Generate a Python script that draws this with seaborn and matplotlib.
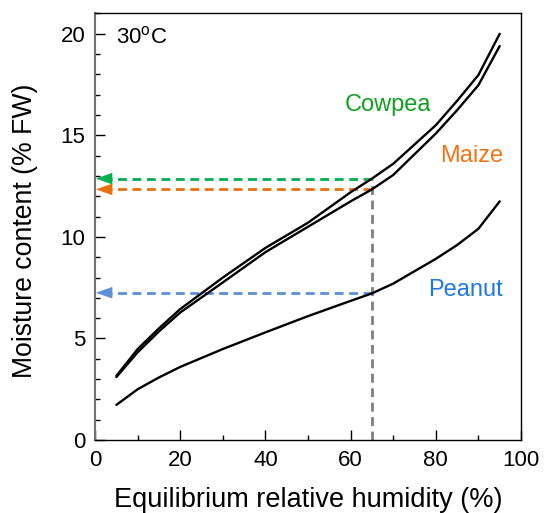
import matplotlib
matplotlib.use("Agg")
import matplotlib.pyplot as plt
import seaborn as sns
import pandas as pd
from matplotlib.ticker import MultipleLocator

sns.set_theme(style="ticks")
plt.rcParams['font.family'] = ['Liberation Sans', 'DejaVu Sans']
plt.rcParams['text.color'] = 'black'
plt.rcParams['axes.labelcolor'] = 'black'
plt.rcParams['xtick.color'] = 'black'
plt.rcParams['ytick.color'] = 'black'

rh = [5, 10, 15, 20, 30, 40, 50, 60, 65, 70, 80, 85, 90, 95]
cowpea = [3.16, 4.48, 5.5, 6.45, 8.0, 9.46, 10.7, 12.2, 12.87, 13.6, 15.5, 16.7, 17.97, 20.0]
maize = [3.1, 4.32, 5.35, 6.28, 7.76, 9.25, 10.5, 11.75, 12.34, 13.05, 15.09, 16.24, 17.47, 19.4]
peanut = [1.73, 2.5, 3.08, 3.6, 4.48, 5.3, 6.1, 6.85, 7.22, 7.7, 8.92, 9.6, 10.4, 11.75]

ref_rh = 65
ref_vals = [12.87, 12.34, 7.25]
ref_names = ["Cowpea", "Maize", "Peanut"]
arrow_colors = ["#00b050", "#e8700c", "#5b8fd6"]
text_colors = ["#10a020", "#f57314", "#1f78e0"]
label_pos = [(68.8, 16.5), (88.5, 14.0), (87.0, 7.4)]

df = pd.DataFrame({
    "rh": rh * 3,
    "mc": cowpea + maize + peanut,
    "crop": ["Cowpea"] * len(rh) + ["Maize"] * len(rh) + ["Peanut"] * len(rh),
})

fig = plt.figure(figsize=(5.46, 5.13), dpi=100)
ax = fig.add_axes([0.1742, 0.1423, 0.78, 0.8314])

sns.lineplot(data=df, x="rh", y="mc", units="crop", estimator=None,
             color="black", linewidth=1.7, ax=ax, legend=False)

# vertical reference line
ax.plot([ref_rh, ref_rh], [0, max(ref_vals)], linestyle=(0, (3.2, 2.0)),
        color="#7f7f7f", linewidth=2.0, zorder=1)

for v, c in zip(ref_vals, arrow_colors):
    ax.plot([ref_rh, 2.0], [v, v], linestyle=(0, (3.2, 2.0)), color=c,
            linewidth=2.0, zorder=1)
    ax.annotate("", xy=(0.2, v), xytext=(3.2, v),
                arrowprops=dict(arrowstyle="-|>,head_length=0.9,head_width=0.32",
                                color=c, lw=0.5, shrinkA=0, shrinkB=0))

for name, (tx, ty), tc in zip(ref_names, label_pos, text_colors):
    ax.text(tx, ty, name, color=tc, fontsize=17, ha="center", va="center")

ax.text(5.0, 19.8, "30$^{\\mathregular{o}}$C", fontsize=16, ha="left", va="center",
        color="black")

ax.set_xlim(0, 100)
ax.set_ylim(0, 21)
ax.xaxis.set_major_locator(MultipleLocator(20))
ax.xaxis.set_minor_locator(MultipleLocator(10))
ax.yaxis.set_major_locator(MultipleLocator(5))
ax.yaxis.set_minor_locator(MultipleLocator(1))
ax.tick_params(which="major", direction="in", length=7, width=1, labelsize=16,
               pad=7, color="black", labelcolor="black")
ax.tick_params(which="minor", direction="in", length=3.5, width=1, color="black")
ax.set_xlabel("Equilibrium relative humidity (%)", fontsize=19.5, color="black")
ax.set_ylabel("Moisture content (% FW)", fontsize=19.2, color="black")
ax.xaxis.set_label_coords(0.5, -0.11)
ax.yaxis.set_label_coords(-0.134, 0.49)

for s in ["top", "right", "bottom"]:
    ax.spines[s].set_color("black")
    ax.spines[s].set_linewidth(1.0)
ax.spines["left"].set_color("#707070")
ax.spines["left"].set_linewidth(1.5)

fig.savefig("out.png", dpi=100)
